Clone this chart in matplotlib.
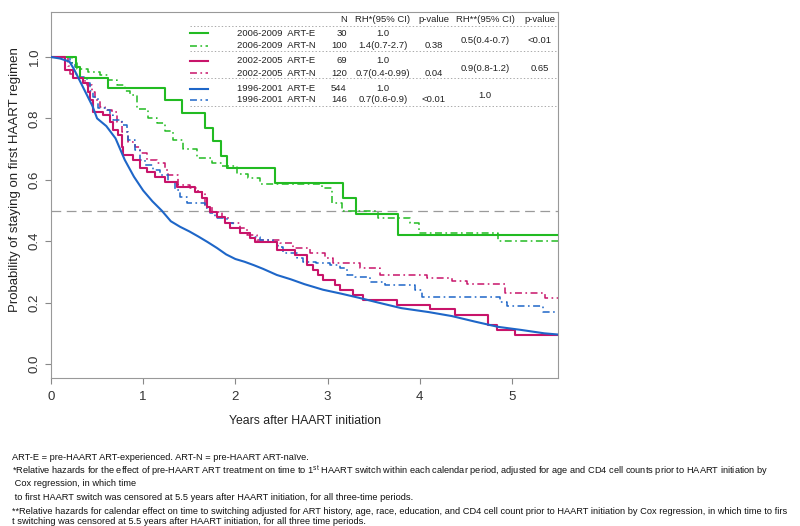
import matplotlib
matplotlib.use("Agg")
import matplotlib.pyplot as plt

plt.rcParams['font.family'] = ['Liberation Sans', 'DejaVu Sans']
plt.rcParams['lines.scale_dashes'] = False
plt.rcParams['mathtext.fontset'] = 'custom'
plt.rcParams['mathtext.rm'] = 'Liberation Sans'

NARROW = ['Liberation Sans Narrow', 'Liberation Sans', 'DejaVu Sans']

# ---------------- data (years, survival probability) ----------------
green_e_t = [0, 0.27, 0.32, 0.62, 1.24, 1.42, 1.67, 1.76, 1.84, 1.91, 2.43, 3.17, 3.31, 3.76, 5.5]
green_e_s = [1.0, 0.967, 0.933, 0.90, 0.86, 0.818, 0.769, 0.726, 0.678, 0.638, 0.588, 0.541, 0.489, 0.42, 0.42]

green_n_t = [0, 0.23, 0.28, 0.40, 0.53, 0.62, 0.72, 0.80, 0.86, 0.93, 1.05, 1.15, 1.24, 1.32, 1.43,
             1.58, 1.75, 1.85, 2.02, 2.14, 2.27, 2.94, 3.05, 3.16, 3.55, 3.89, 3.99, 4.85, 5.5]
green_n_s = [1.0, 0.98, 0.96, 0.95, 0.94, 0.925, 0.91, 0.89, 0.875, 0.83, 0.80, 0.785, 0.76, 0.73, 0.70,
             0.67, 0.655, 0.645, 0.62, 0.605, 0.586, 0.573, 0.524, 0.50, 0.476, 0.46, 0.427, 0.40, 0.40]

magenta_e_t = [0, 0.15, 0.24, 0.35, 0.40, 0.42, 0.46, 0.56, 0.64, 0.67, 0.73, 0.77, 0.78, 0.89, 0.97,
               1.04, 1.13, 1.24, 1.37, 1.56, 1.64, 1.69, 1.72, 1.80, 1.89, 1.94, 2.05, 2.16, 2.21, 2.45,
               2.65, 2.78, 2.84, 2.90, 2.95, 3.08, 3.13, 3.28, 3.38, 3.75, 4.11, 4.38, 4.74, 4.84, 5.03, 5.5]
magenta_e_s = [1.0, 0.957, 0.93, 0.915, 0.886, 0.86, 0.82, 0.81, 0.788, 0.762, 0.746, 0.707, 0.68, 0.664, 0.638,
               0.625, 0.61, 0.593, 0.577, 0.56, 0.54, 0.51, 0.495, 0.479, 0.46, 0.443, 0.427, 0.41, 0.397, 0.371,
               0.355, 0.322, 0.306, 0.29, 0.274, 0.257, 0.241, 0.225, 0.208, 0.192, 0.179, 0.16, 0.127, 0.111, 0.094, 0.094]

magenta_n_t = [0, 0.18, 0.21, 0.31, 0.37, 0.39, 0.44, 0.48, 0.53, 0.59, 0.66, 0.72, 0.77, 0.84, 0.91,
               0.97, 1.04, 1.15, 1.24, 1.27, 1.38, 1.51, 1.59, 1.67, 1.75, 1.85, 1.92, 2.05, 2.13, 2.23,
               2.48, 2.62, 2.81, 2.97, 3.06, 3.35, 3.57, 4.08, 4.35, 4.51, 4.92, 5.36, 5.5]
magenta_n_s = [1.0, 0.97, 0.945, 0.93, 0.92, 0.91, 0.886, 0.86, 0.837, 0.827, 0.82, 0.788, 0.756, 0.723, 0.707,
               0.687, 0.664, 0.655, 0.632, 0.616, 0.583, 0.573, 0.56, 0.511, 0.495, 0.479, 0.46, 0.443, 0.42, 0.404,
               0.394, 0.378, 0.36, 0.345, 0.329, 0.313, 0.29, 0.28, 0.27, 0.26, 0.231, 0.215, 0.215]

blue_e_t = [0, 0.1, 0.2, 0.25, 0.3, 0.35, 0.4, 0.45, 0.5, 0.6, 0.7, 0.8, 0.9, 1.0, 1.1, 1.2, 1.3, 1.4,
            1.5, 1.6, 1.7, 1.8, 1.9, 2.0, 2.1, 2.2, 2.3, 2.45, 2.6, 2.75, 2.95, 3.15, 3.35, 3.55, 3.8,
            4.1, 4.35, 4.6, 4.85, 5.1, 5.35, 5.5]
blue_e_s = [1.0, 0.995, 0.985, 0.96, 0.93, 0.90, 0.87, 0.84, 0.80, 0.775, 0.735, 0.665, 0.61, 0.565, 0.53,
            0.50, 0.465, 0.447, 0.432, 0.415, 0.397, 0.378, 0.357, 0.342, 0.333, 0.322, 0.31, 0.29, 0.276,
            0.26, 0.242, 0.229, 0.215, 0.200, 0.182, 0.169, 0.156, 0.138, 0.121, 0.111, 0.100, 0.096]

blue_n_t = [0, 0.21, 0.26, 0.31, 0.39, 0.42, 0.46, 0.51, 0.61, 0.64, 0.67, 0.77, 0.82, 0.84, 0.91, 0.97,
            1.02, 1.11, 1.18, 1.27, 1.34, 1.40, 1.48, 1.67, 1.72, 1.78, 1.91, 1.97, 2.05, 2.16, 2.27, 2.41,
            2.46, 2.52, 2.67, 2.73, 2.88, 3.03, 3.13, 3.21, 3.30, 3.46, 3.62, 3.95, 4.02, 4.87, 4.95, 5.34, 5.5]
blue_n_s = [1.0, 0.98, 0.967, 0.935, 0.915, 0.89, 0.87, 0.834, 0.827, 0.81, 0.795, 0.779, 0.756, 0.73, 0.697,
            0.664, 0.648, 0.632, 0.616, 0.593, 0.567, 0.544, 0.524, 0.508, 0.492, 0.476, 0.46, 0.443, 0.427,
            0.414, 0.404, 0.397, 0.38, 0.36, 0.345, 0.332, 0.329, 0.322, 0.313, 0.29, 0.283, 0.267, 0.257,
            0.241, 0.218, 0.202, 0.189, 0.169, 0.169]

# table content
periods = ['2006-2009', '2002-2005', '1996-2001']
groups = ['ART-E', 'ART-N']
n_values = [['30', '100'], ['69', '120'], ['544', '146']]
rh1 = [['1.0', '1.4(0.7-2.7)'], ['1.0', '0.7(0.4-0.99)'], ['1.0', '0.7(0.6-0.9)']]
p1 = ['0.38', '0.04', '<0.01']
rh2 = ['0.5(0.4-0.7)', '0.9(0.8-1.2)', '1.0']
p2 = ['<0.01', '0.65', '']
headers = ['N', 'RH*(95% CI)', 'p-value', 'RH**(95% CI)', 'p-value']

footnotes = [
    "ART-E = pre-HAART ART-experienced. ART-N = pre-HAART ART-naïve.",
    "*Relative hazards for the effect of pre-HAART ART treatment on time to 1$^{\\mathrm{st}}$ HAART switch within each calendar period, adjusted for age and CD4 cell counts prior to HAART initiation by",
    " Cox regression, in which time",
    " to first HAART switch was censored at 5.5 years after HAART initiation, for all three-time periods.",
    "**Relative hazards for calendar effect on time to switching adjusted for ART history, age, race, education, and CD4 cell count prior to HAART initiation by Cox regression, in which time to firs",
    "t switching was censored at 5.5 years after HAART initiation, for all three time periods.",
]

GREEN = '#22BB22'
MAGENTA = '#C8146A'
BLUE = '#1E66C8'
colors = [GREEN, MAGENTA, BLUE]

series = [
    (green_e_t, green_e_s, GREEN, 'solid'),
    (green_n_t, green_n_s, GREEN, 'dashdot'),
    (magenta_e_t, magenta_e_s, MAGENTA, 'solid'),
    (magenta_n_t, magenta_n_s, MAGENTA, 'dashdot'),
    (blue_e_t, blue_e_s, BLUE, 'smooth'),
    (blue_n_t, blue_n_s, BLUE, 'dashdot'),
]

DASHDOT = (0, (5, 2.5, 1.2, 2.5))

fig = plt.figure(figsize=(8.0, 5.26), dpi=100)
ax = fig.add_axes([51 / 800, 1 - 378 / 526, 507 / 800, 366 / 526])

# reference line at 0.5
ax.axhline(0.5, color='#9a9a9a', lw=0.9, ls=(0, (7, 4)), zorder=1)

for t, s, c, kind in series:
    if kind == 'solid':
        ax.step(t, s, where='post', color=c, lw=1.5, zorder=3)
    elif kind == 'smooth':
        ax.plot(t, s, color=c, lw=1.5, zorder=3)
    else:
        ax.step(t, s, where='post', color=c, lw=1.1, ls=DASHDOT, zorder=2)

ax.set_xlim(0, 5.5)
ax.set_ylim(-0.0456, 1.1466)
ax.set_xticks([0, 1, 2, 3, 4, 5])
ax.set_yticks([0.0, 0.2, 0.4, 0.6, 0.8, 1.0])
ax.set_yticklabels(['0.0', '0.2', '0.4', '0.6', '0.8', '1.0'], rotation=90, va='center',
                   fontsize=9.5)
ax.set_xticklabels(['0', '1', '2', '3', '4', '5'], fontsize=9.5, family=NARROW)
ax.tick_params(axis='both', colors='#888888', length=4.5, width=0.8, labelcolor='#333333')
ax.tick_params(axis='y', pad=3)
ax.tick_params(axis='x', pad=5)
for sp in ax.spines.values():
    sp.set_color('#999999')
    sp.set_linewidth(0.8)

fig.text(15 / 800, 1 - 180 / 526, 'Probability of staying on first HAART regimen', rotation=90,
         ha='center', va='center', fontsize=9.5, color='#222222')
fig.text(305 / 800, 1 - 421 / 526, 'Years after HAART initiation', ha='center', va='center',
         fontsize=8.8, family=NARROW, color='#222222')

# ---------------- inset table ----------------
TFS = 6.8
TCOL = '#222222'
line_x0, line_x1 = 1.51, 1.70
text_x = 2.014
n_x = 3.21
rh1_x = 3.60
p1_x = 4.15
rh2_x = 4.71
p2_x = 5.30
header_y = 1.122
sep_y = [1.102, 1.0205, 0.9316, 0.840]
row_y = [(1.077, 1.037), (0.987, 0.947), (0.896, 0.860)]
mid_y = [1.055, 0.964, 0.876]

hx = [n_x, rh1_x, p1_x, rh2_x, p2_x]
has = ['right', 'center', 'center', 'center', 'center']
for h, x, ha in zip(headers, hx, has):
    ax.text(x, header_y, h, ha=ha, va='center', fontsize=TFS, color=TCOL)
for yy in sep_y:
    ax.plot([1.508, 5.5], [yy, yy], color='#aaaaaa', lw=0.7, ls=(0, (1, 1.5)), zorder=1)

for i, per in enumerate(periods):
    for j, g in enumerate(groups):
        yy = row_y[i][j]
        if j == 0:
            ax.plot([line_x0, line_x1], [yy, yy], color=colors[i], lw=1.5)
        else:
            ax.plot([line_x0, line_x1], [yy, yy], color=colors[i], lw=1.1, ls=DASHDOT)
        ax.text(text_x, yy, f'{per}  {g}', ha='left', va='center', fontsize=TFS, color=TCOL)
        ax.text(n_x, yy, n_values[i][j], ha='right', va='center', fontsize=TFS, color=TCOL)
        ax.text(rh1_x, yy, rh1[i][j], ha='center', va='center', fontsize=TFS, color=TCOL)
    ax.text(p1_x, row_y[i][1], p1[i], ha='center', va='center', fontsize=TFS, color=TCOL)
    ax.text(rh2_x, mid_y[i], rh2[i], ha='center', va='center', fontsize=TFS, color=TCOL)
    if p2[i]:
        ax.text(p2_x, mid_y[i], p2[i], ha='center', va='center', fontsize=TFS, color=TCOL)

# ---------------- footnotes ----------------
foot_y = [457, 471, 483, 497, 511, 522]
for txt, yy in zip(footnotes, foot_y):
    fig.text(12 / 800, 1 - yy / 526, txt, ha='left', va='center', fontsize=6.7, family=NARROW,
             color='#111111')

fig.savefig('out.png', dpi=100)
